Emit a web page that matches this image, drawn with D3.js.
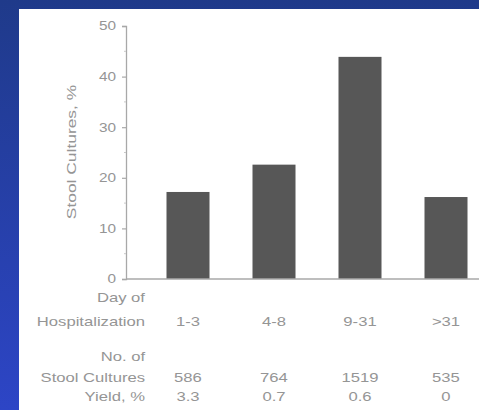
<!DOCTYPE html>
<html>
<head>
<meta charset="utf-8">
<script src="https://cdn.jsdelivr.net/npm/d3@7"></script>
<style>
  html, body { margin: 0; padding: 0; background: #fff; }
  svg { display: block; }
  text { font-family: "Liberation Sans", Arial, sans-serif; fill: #959595; }
</style>
</head>
<body>
<svg id="chart" width="479" height="410"></svg>
<script>
// Stool culture yield by day of hospitalization
const categories = ["1-3", "4-8", "9-31", ">31"];
const culturePercent = [17.2, 22.6, 43.9, 16.2];
const cultureCounts = ["586", "764", "1519", "535"];
const yieldPercent = ["3.3", "0.7", "0.6", "0"];
const yTicks = [0, 10, 20, 30, 40, 50];
const yMinorTicks = [5, 15, 25, 35, 45];

const W = 479, H = 410;
const svg = d3.select("#chart");

// slide frame: blue strip on the top and left
const grad = svg.append("defs").append("linearGradient")
  .attr("id", "frameBlue").attr("x1", 0).attr("y1", 0).attr("x2", 0).attr("y2", 1);
grad.append("stop").attr("offset", "0%").attr("stop-color", "#1f3a8a");
grad.append("stop").attr("offset", "100%").attr("stop-color", "#2d45c6");
svg.append("rect").attr("width", W).attr("height", H).attr("fill", "url(#frameBlue)");
svg.append("rect").attr("x", 19).attr("y", 9).attr("width", W - 19).attr("height", H - 9)
  .attr("fill", "#ffffff");

const axisX = 126, y0 = 279, yTop = 26;
const x = d3.scaleBand().domain(categories).range([145, 489]).paddingInner(0.5).paddingOuter(0.25);
const y = d3.scaleLinear().domain([0, 50]).range([y0, yTop]);

const stretch = 1.28; // wide lettering of the slide

// bars
svg.append("g").selectAll("rect").data(categories).join("rect")
  .attr("x", d => x(d))
  .attr("width", x.bandwidth())
  .attr("y", (d, i) => y(culturePercent[i]))
  .attr("height", (d, i) => y0 - y(culturePercent[i]))
  .attr("fill", "#575757");

// y axis
const yAxis = svg.append("g").attr("transform", `translate(${axisX},0)`)
  .call(d3.axisLeft(y).tickValues(yTicks).tickSize(4).tickPadding(2).tickFormat(d3.format("d")));
yAxis.select(".domain").attr("stroke", "#a8a8a8").attr("stroke-width", 1.3);
yAxis.selectAll(".tick line").attr("stroke", "#a8a8a8").attr("stroke-width", 1.2);
yAxis.selectAll(".tick text")
  .attr("font-size", 12).attr("fill", "#959595")
  .attr("text-anchor", "end")
  .attr("transform", `scale(${stretch},1)`)
  .attr("x", -10 / stretch);
yAxis.append("g").selectAll("line").data(yMinorTicks).join("line")
  .attr("x1", -2).attr("x2", 0).attr("y1", d => y(d)).attr("y2", d => y(d))
  .attr("stroke", "#c8c8c8");

// x baseline
svg.append("line").attr("x1", axisX).attr("x2", W).attr("y1", y0).attr("y2", y0)
  .attr("stroke", "#a8a8a8").attr("stroke-width", 1.3);

// y axis title
svg.append("text")
  .attr("transform", `translate(76,152) rotate(-90) scale(1.45,1)`)
  .attr("text-anchor", "middle").attr("font-size", 12)
  .text("Stool Cultures, %");

// table below the axis
function label(txt, px, py, anchor) {
  svg.append("text")
    .attr("transform", `translate(${px},${py}) scale(${stretch},1)`)
    .attr("text-anchor", anchor).attr("font-size", 13)
    .text(txt);
}
const rightEdge = 145;
label("Day of", rightEdge, 302, "end");
label("Hospitalization", rightEdge, 326, "end");
label("No. of", rightEdge, 361, "end");
label("Stool Cultures", rightEdge, 382, "end");
label("Yield, %", rightEdge, 401, "end");

categories.forEach((c, i) => {
  const cx = x(c) + x.bandwidth() / 2;
  label(c, cx, 326, "middle");
  label(cultureCounts[i], cx, 382, "middle");
  label(yieldPercent[i], cx, 401, "middle");
});
</script>
</body>
</html>
